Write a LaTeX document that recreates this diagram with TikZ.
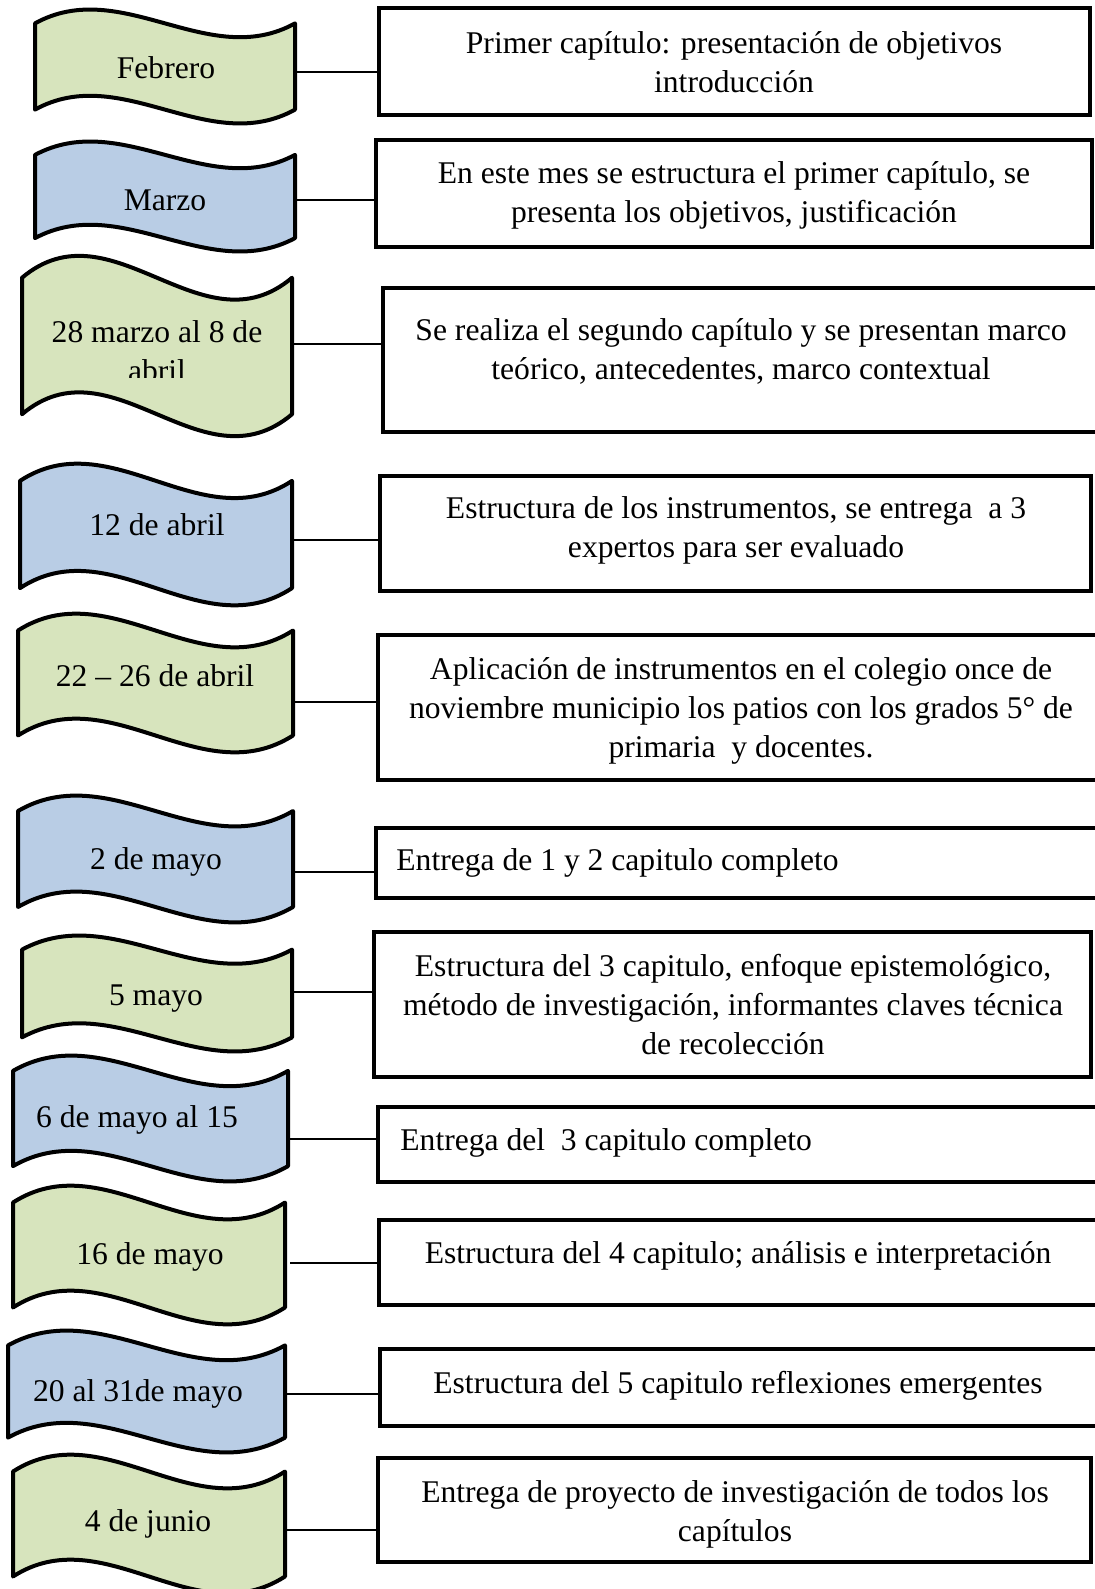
\documentclass[tikz,border=0pt]{standalone}
\usepackage{fontspec}
\setmainfont{Liberation Serif}
\usetikzlibrary{fit}
\definecolor{datagreen}{HTML}{D7E4BD}
\definecolor{datablue}{HTML}{B9CDE5}
\tikzset{
  wavebox/.style={draw=black, line width=2pt, line join=round},
  tbox/.style={draw=black, line width=2pt, inner sep=0pt, rectangle},
  link/.style={line width=1pt},
  ttxt/.style={align=center, inner sep=0pt, font=\fontsize{15.8}{19.5}\selectfont},
}
% wave banner: x0, ytop, x1, ybot, colour
\newcommand{\wave}[5]{%
  \pgfmathsetmacro{\wavey}{0.125*(#4-#2)}%
  \pgfmathsetmacro{\wavek}{10/3*\wavey}%
  \pgfmathsetmacro{\wavet}{(#3-#1)/3}%
  \filldraw[wavebox, fill=#5] (#1,#2+\wavey)
    .. controls (#1+\wavet,#2+\wavey-\wavek) and (#1+2*\wavet,#2+\wavey+\wavek) .. (#3,#2+\wavey)
    -- (#3,#4-\wavey)
    .. controls (#1+2*\wavet,#4-\wavey+\wavek) and (#1+\wavet,#4-\wavey-\wavek) .. (#1,#4-\wavey)
    -- cycle;
}
\begin{document}
\begin{tikzpicture}[x=0.5pt, y=-0.5pt]
    \useasboundingbox (0,0) rectangle (1094,1589);

    % banners
    \wave{35}{9}{295}{124}{datagreen}
    \wave{35}{141}{295}{252}{datablue}
    \wave{22}{255}{292}{437}{datagreen}
    \wave{20}{463}{292}{606}{datablue}
    \wave{18}{613}{293}{753}{datagreen}
    \wave{18}{795}{293}{923}{datablue}
    \wave{22}{935}{292}{1052}{datagreen}
    \wave{13}{1055}{288}{1182}{datablue}
    \wave{13}{1185}{285}{1325}{datagreen}
    \wave{8}{1330}{285}{1453}{datablue}
    \wave{13}{1454}{285}{1594}{datagreen}

    \node[ttxt] (d1) at (166,68) {Febrero};
    \node[ttxt] (d2) at (165,200) {Marzo};
    \begin{scope}
        \clip (0,250) rectangle (300,377);
        \node[ttxt] (d3) at (157,351) {28 marzo al 8 de\\abril};
    \end{scope}
    \node[ttxt] (d4) at (157,525) {12 de abril};
    \node[ttxt] (d5) at (155,676) {22 -- 26 de abril};
    \node[ttxt] (d6) at (156,862) {2 de mayo};
    \node[ttxt] (d7) at (156,999) {5 mayo};
    \node[ttxt] (d8) at (137,1120) {6 de mayo al 15};
    \node[ttxt] (d9) at (150,1257) {16 de mayo};
    \node[ttxt] (d10) at (138,1394) {20 al 31de mayo};
    \node[ttxt] (d11) at (148,1524) {4 de junio};

    % boxes
    \node[tbox, fit={(379,8) (1090,115)}] (e1) {};
    \node[tbox, fit={(376,140) (1092,247)}] (e2) {};
    \node[tbox, fit={(383,288) (1100,432)}] (e3) {};
    \node[tbox, fit={(380,476) (1091,591)}] (e4) {};
    \node[tbox, fit={(378,635) (1100,780)}] (e5) {};
    \node[tbox, fit={(376,828) (1100,898)}] (e6) {};
    \node[tbox, fit={(374,932) (1091,1077)}] (e7) {};
    \node[tbox, fit={(378,1107) (1100,1182)}] (e8) {};
    \node[tbox, fit={(379,1220) (1100,1305)}] (e9) {};
    \node[tbox, fit={(380,1349) (1100,1426)}] (e10) {};
    \node[tbox, fit={(378,1458) (1091,1562)}] (e11) {};

    \node[ttxt] (t1) at (734,62) {Primer capítulo: presentación de objetivos\\introducción};
    \node[ttxt] (t2) at (734,195) {En este mes se estructura el primer capítulo, se\\presenta los objetivos, justificación};
    \node[ttxt] (t3) at (741,351) {Se realiza el segundo capítulo y se presentan marco\\teórico, antecedentes, marco contextual};
    \node[ttxt] (t4) at (736,530) {Estructura de los instrumentos, se entrega~ a 3\\expertos para ser evaluado};
    \node[ttxt] (t5) at (741,711) {Aplicación de instrumentos en el colegio once de\\noviembre municipio los patios con los grados 5° de\\primaria~ y docentes.};
    \node[ttxt, anchor=west] (t6) at (396,863) {Entrega de 1 y 2 capitulo completo};
    \node[ttxt] (t7) at (733,1005) {Estructura del 3 capitulo, enfoque epistemológico,\\método de investigación, informantes claves técnica\\de recolección};
    \node[ttxt, anchor=west] (t8) at (400,1143) {Entrega del~ 3 capitulo completo};
    \node[ttxt] (t9) at (738,1256) {Estructura del 4 capitulo; análisis e interpretación};
    \node[ttxt] (t10) at (738,1386) {Estructura del 5 capitulo reflexiones emergentes};
    \node[ttxt] (t11) at (735,1514) {Entrega de proyecto de investigación de todos los\\capítulos};

    % connectors
    \coordinate (c1) at (295,72);
    \coordinate (c2) at (295,200);
    \coordinate (c3) at (292,344);
    \coordinate (c4) at (292,540);
    \coordinate (c5) at (293,702);
    \coordinate (c6) at (293,872);
    \coordinate (c7) at (292,992);
    \coordinate (c8) at (288,1139);
    \coordinate (c9) at (290,1263);
    \coordinate (c10) at (285,1394);
    \coordinate (c11) at (285,1530);
    \draw[link] (c1) -- (c1 -| e1.west);
    \draw[link] (c2) -- (c2 -| e2.west);
    \draw[link] (c3) -- (c3 -| e3.west);
    \draw[link] (c4) -- (c4 -| e4.west);
    \draw[link] (c5) -- (c5 -| e5.west);
    \draw[link] (c6) -- (c6 -| e6.west);
    \draw[link] (c7) -- (c7 -| e7.west);
    \draw[link] (c8) -- (c8 -| e8.west);
    \draw[link] (c9) -- (c9 -| e9.west);
    \draw[link] (c10) -- (c10 -| e10.west);
    \draw[link] (c11) -- (c11 -| e11.west);
\end{tikzpicture}
\end{document}
